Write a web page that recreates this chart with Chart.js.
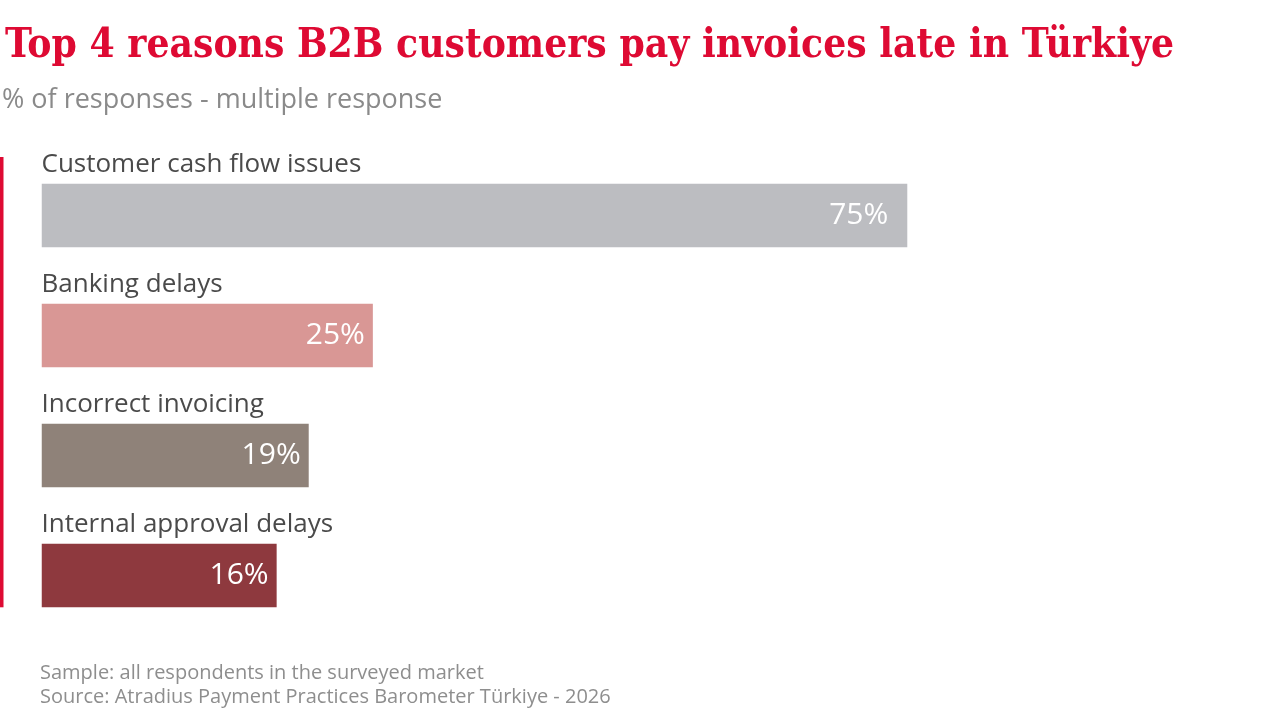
<!DOCTYPE html>
<html>
<head>
<meta charset="utf-8">
<script src="https://cdn.jsdelivr.net/npm/chart.js@4"></script>
<style>
  html, body { margin: 0; padding: 0; background: #ffffff; }
  #wrap { width: 1280px; height: 720px; position: relative; }
</style>
</head>
<body>
<div id="wrap"><canvas id="chart"></canvas></div>
<script>
const chartTitle = "Top 4 reasons B2B customers pay invoices late in Türkiye";
const chartSubtitle = "% of responses - multiple response";
const footerLines = [
    "Sample: all respondents in the surveyed market",
    "Source: Atradius Payment Practices Barometer Türkiye - 2026"
];
const categories = ["Customer cash flow issues", "Banking delays", "Incorrect invoicing", "Internal approval delays"];
const shares = [75, 25, 19, 16];
const barColors = ["#bcbdc1", "#d99795", "#8f8279", "#8e393e"];

const SANS = "'Open Sans', Lato, sans-serif";
const SERIF = "'DejaVu Serif Condensed', 'DejaVu Serif', serif";

// titles, category labels, value labels, red accent line and footer
const decorPlugin = {
    id: "decor",
    afterDatasetsDraw(chart) {
        const ctx = chart.ctx;
        const area = chart.chartArea;
        const bars = chart.getDatasetMeta(0).data;
        ctx.save();

        // title, fitted to reference width
        let size = 42;
        ctx.font = "bold " + size + "px " + SERIF;
        const w = ctx.measureText(chartTitle).width;
        size = Math.min(46, size * 1170 / w);
        ctx.font = "bold " + size.toFixed(1) + "px " + SERIF;
        ctx.fillStyle = "#de0a33";
        ctx.textAlign = "left";
        ctx.textBaseline = "alphabetic";
        ctx.fillText(chartTitle, 5, 57);

        ctx.font = "27px " + SANS;
        ctx.fillStyle = "#8a8a8a";
        ctx.fillText(chartSubtitle, 2, 108);

        // red accent line
        const last = bars[bars.length - 1];
        ctx.fillStyle = "#de0a33";
        ctx.fillRect(0, area.top + 1.5, 3.5, last.y + last.height / 2 - area.top - 1.5);

        bars.forEach((bar, i) => {
            const top = bar.y - bar.height / 2;
            ctx.font = "26px " + SANS;
            ctx.fillStyle = "#4a4a4a";
            ctx.textAlign = "left";
            ctx.fillText(categories[i], area.left, top - 12);

            ctx.font = "30px " + SANS;
            ctx.fillStyle = "#ffffff";
            ctx.textAlign = "right";
            ctx.fillText(shares[i] + "%", bar.x - (i === 0 ? 19 : 8), bar.y + 8.5);
        });

        ctx.font = "20px " + SANS;
        ctx.fillStyle = "#8e8e8e";
        ctx.textAlign = "left";
        footerLines.forEach((line, i) => {
            ctx.fillText(line, 40, 679 + i * 23.7);
        });
        ctx.restore();
    }
};

new Chart(document.getElementById("chart"), {
    type: "bar",
    data: {
        labels: categories,
        datasets: [{
            data: shares,
            base: -6,
            backgroundColor: barColors,
            borderWidth: 0,
            barPercentage: 1,
            categoryPercentage: 0.53
        }]
    },
    options: {
        indexAxis: "y",
        responsive: true,
        maintainAspectRatio: false,
        animation: false,
        layout: { padding: { top: 155.5, bottom: 84.5, left: 41.5, right: 105.5 } },
        scales: {
            x: { display: false, min: -6, max: 100 },
            y: { display: false }
        },
        plugins: {
            legend: { display: false },
            tooltip: { enabled: false }
        }
    },
    plugins: [decorPlugin]
});
</script>
</body>
</html>
